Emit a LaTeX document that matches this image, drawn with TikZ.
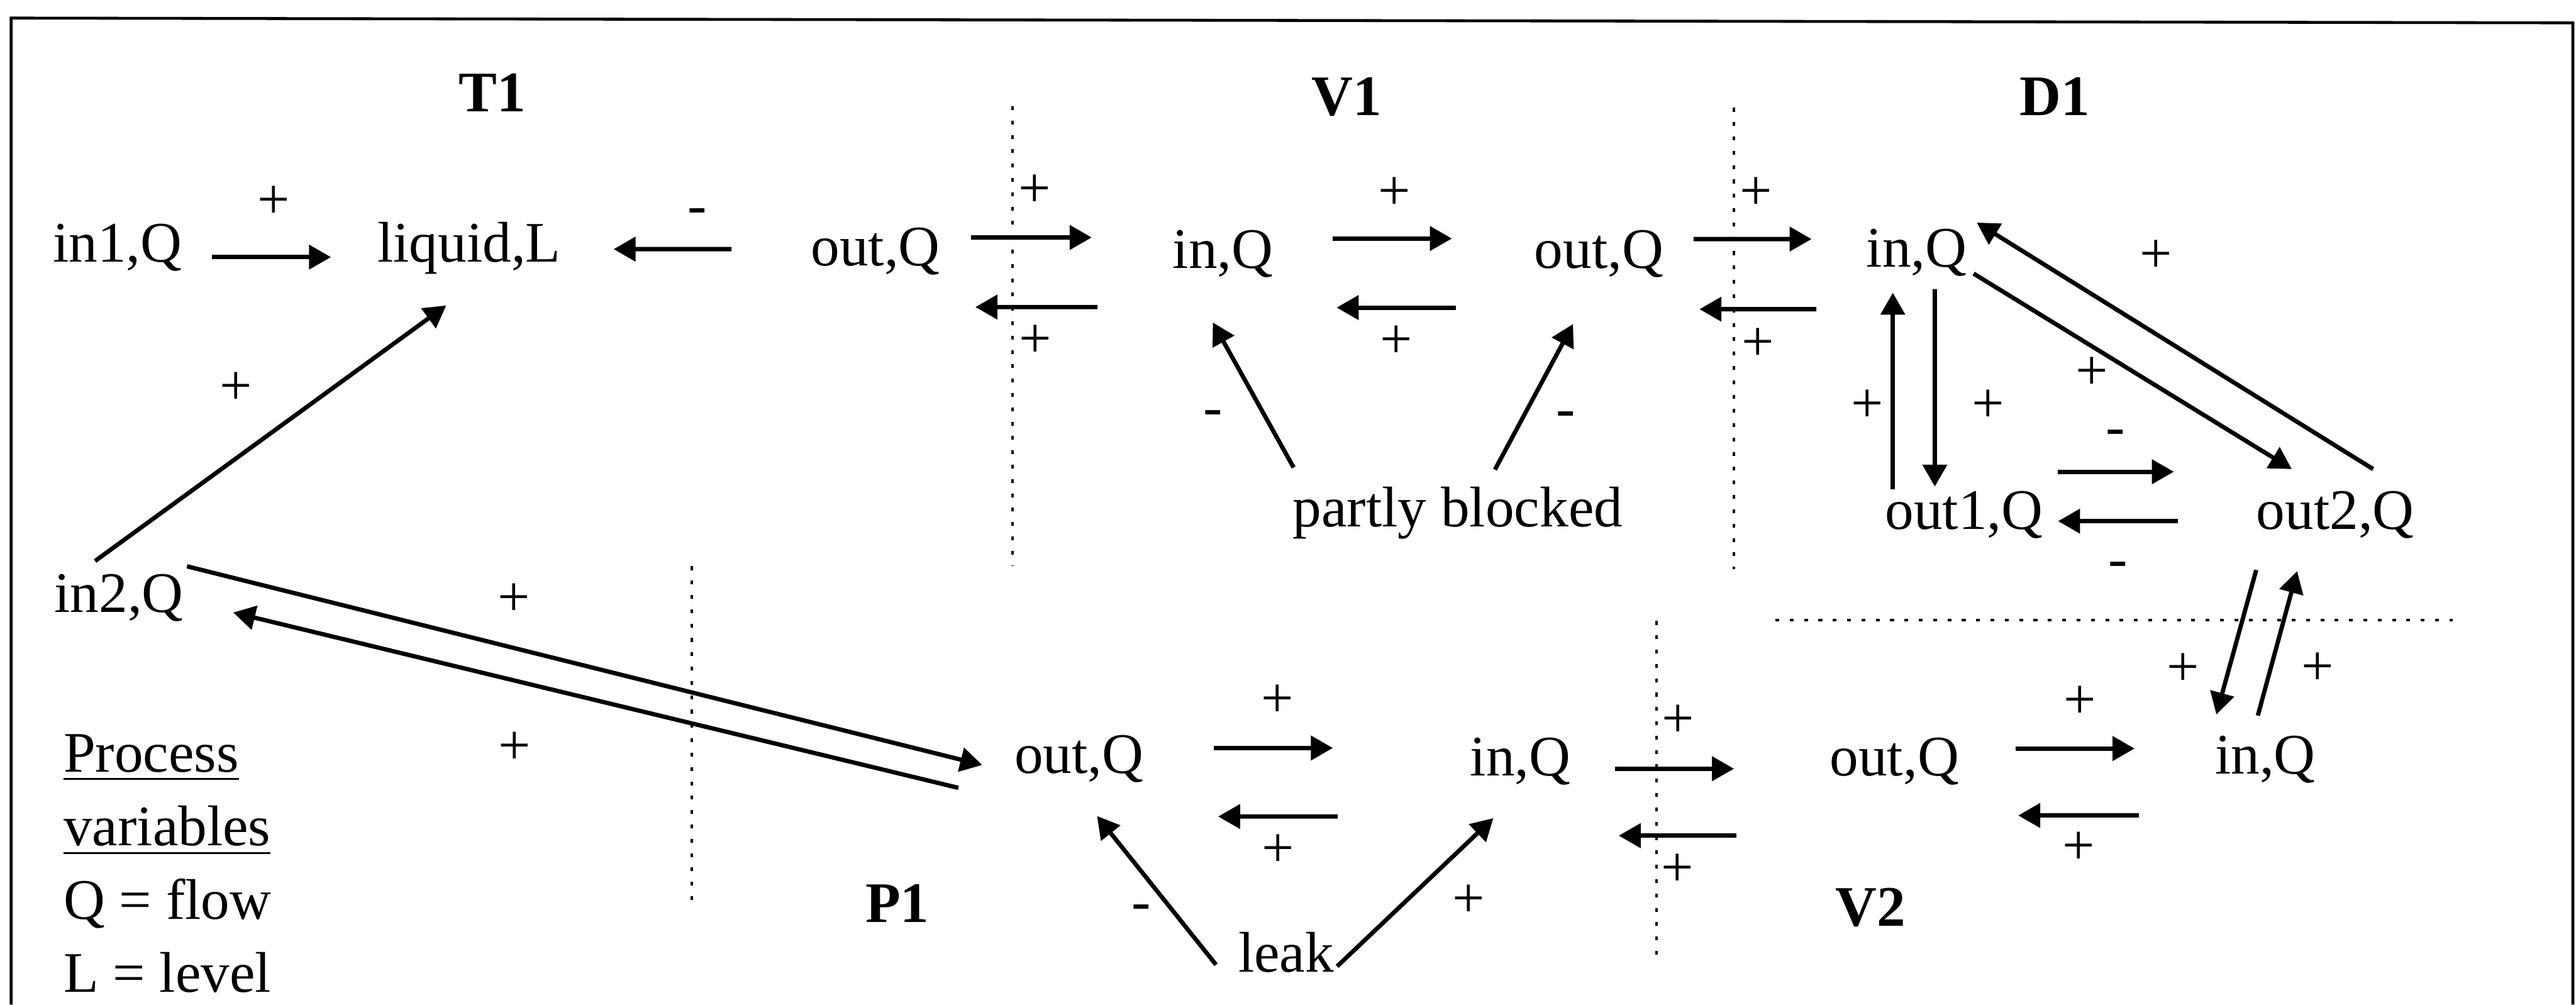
\documentclass[tikz,border=0pt]{standalone}
\usepackage{fontspec}
\setmainfont{Liberation Serif}
\usetikzlibrary{arrows.meta}

\newcommand{\txtsize}{\fontsize{12pt}{14.5pt}\selectfont}

\tikzset{
    var/.style={inner sep=0pt, anchor=base, font=\txtsize},
    unit/.style={var, font=\txtsize\bfseries},
    sgn/.style={inner sep=0pt, text height=0.5em, text depth=0pt, font=\txtsize},
    flow/.style={-{Triangle[length=4.6pt,width=5pt]}, line width=0.9pt},
    divider/.style={line width=0.5pt, dash pattern=on 0.8pt off 2.2pt}
}

\begin{document}
\begin{tikzpicture}[x=0.3906cm, y=-0.3906cm]
            \useasboundingbox (0,0) rectangle (48.49,18.91);

            % Frame
            \draw[line width=0.6pt] (0.21,18.91) -- (0.21,0.34) -- (48.43,0.43) -- (48.43,18.91);

            % Tank T1
            \node[unit] (t1) at (9.27,2.10) {T1};
            \node[var] (in1) at (2.21,4.93) {in1,Q};
            \node[var] (liq) at (8.83,4.93) {liquid,L};
            \node[var] (tout) at (16.48,5.00) {out,Q};
            \node[var] (in2) at (2.24,11.53) {in2,Q};

            % Valve V1
            \node[unit] (v1) at (25.35,2.17) {V1};
            \node[var] (vin) at (23.02,5.05) {in,Q};
            \node[var] (vout) at (30.10,5.05) {out,Q};
            \node[var] (blk) at (27.44,9.92) {partly blocked};

            % D1
            \node[unit] (d1) at (38.68,2.17) {D1};
            \node[var] (din) at (36.08,5.03) {in,Q};
            \node[var] (out1) at (36.97,9.96) {out1,Q};
            \node[var] (out2) at (43.96,9.96) {out2,Q};

            % Pump P1
            \node[unit] (p1) at (16.89,17.36) {P1};
            \node[var] (pout) at (20.31,14.56) {out,Q};
            \node[var] (pin) at (28.62,14.60) {in,Q};
            \node[var] (leak) at (24.21,18.30) {leak};

            % Valve V2
            \node[unit] (v2) at (35.21,17.43) {V2};
            \node[var] (wout) at (35.66,14.60) {out,Q};
            \node[var] (win) at (42.64,14.57) {in,Q};

            % Legend
            \node[var, anchor=base west] (leg1) at (1.18,14.53) {\underline{Process}};
            \node[var, anchor=base west] (leg2) at (1.18,15.92) {\underline{variables}};
            \node[var, anchor=base west] (leg3) at (1.18,17.30) {Q = flow};
            \node[var, anchor=base west] (leg4) at (1.18,18.68) {L = level};

            % Component borders
            \foreach \x/\ya/\yb in {19.06/2.00/10.66, 32.64/2.03/10.71, 13.02/10.66/16.96, 31.18/11.69/18.04} {
                \draw[divider] (\x,\ya) -- (\x,\yb);
            }
            \draw[divider] (33.42,11.67) -- (46.17,11.67);

            % T1 influences
            \draw[flow] ([shift={(1.78,-0.09)}]in1.base) -- node[sgn,shift={(0.04,-0.95)}] {+} ([shift={(-2.60,-0.09)}]liq.base);
            \draw[flow] ([shift={(-2.71,-0.31)}]tout.base) -- node[sgn,shift={(0.46,-0.69)}] {-} ([shift={(2.72,-0.24)}]liq.base);
            \draw[flow] ([shift={(-0.45,-0.97)}]in2.base) -- node[sgn,shift={(-0.65,-0.76)}] {+} ([shift={(-0.43,0.82)}]liq.base);

            % T1 - V1
            \draw[flow] ([shift={(1.80,-0.53)}]tout.base) -- node[sgn,shift={(0.06,-0.79)}] {+} ([shift={(-2.47,-0.58)}]vin.base);
            \draw[flow] ([shift={(-2.36,0.73)}]vin.base) -- node[sgn,shift={(-0.02,0.72)}] {+} ([shift={(1.88,0.78)}]tout.base);

            % V1
            \draw[flow] ([shift={(2.07,-0.56)}]vin.base) -- node[sgn,shift={(0.04,-0.77)}] {+} ([shift={(-2.77,-0.56)}]vout.base);
            \draw[flow] ([shift={(-2.69,0.74)}]vout.base) -- node[sgn,shift={(0,0.73)}] {+} ([shift={(2.14,0.74)}]vin.base);
            \draw[flow] ([shift={(-3.09,-1.12)}]blk.base) -- node[sgn,shift={(-0.76,0.36)}] {-} ([shift={(-0.19,1.02)}]vin.base);
            \draw[flow] ([shift={(0.70,-1.08)}]blk.base) -- node[sgn,shift={(0.60,0.35)}] {-} ([shift={(-0.49,1.05)}]vout.base);

            % V1 - D1
            \draw[flow] ([shift={(1.78,-0.55)}]vout.base) -- node[sgn,shift={(0.06,-0.78)}] {+} ([shift={(-1.98,-0.53)}]din.base);
            \draw[flow] ([shift={(-1.89,0.79)}]din.base) -- node[sgn,shift={(0,0.74)}] {+} ([shift={(1.89,0.77)}]vout.base);

            % D1
            \draw[flow] ([shift={(-1.34,-0.75)}]out1.base) -- node[sgn,shift={(-0.48,0.37)}] {+} ([shift={(-0.45,0.48)}]din.base);
            \draw[flow] ([shift={(0.34,0.41)}]din.base) -- node[sgn,shift={(1.00,0.43)}] {+} ([shift={(-0.55,-0.80)}]out1.base);
            \draw[flow] ([shift={(1.07,0.12)}]din.base) -- node[sgn,shift={(-0.77,0.12)}] {+} ([shift={(-0.82,-1.13)}]out2.base);
            \draw[flow] ([shift={(0.71,-1.13)}]out2.base) -- node[sgn,shift={(-0.35,-1.60)}] {+} ([shift={(1.13,-0.84)}]din.base);
            \draw[flow] ([shift={(1.76,-1.08)}]out1.base) -- node[sgn,shift={(0,-0.72)}] {-} ([shift={(-3.04,-1.08)}]out2.base);
            \draw[flow] ([shift={(-2.96,-0.15)}]out2.base) -- node[sgn,shift={(0,0.84)}] {-} ([shift={(1.77,-0.15)}]out1.base);

            % D1 - V2
            \draw[flow] ([shift={(-1.49,0.77)}]out2.base) -- node[sgn,shift={(-1.00,0.60)}] {+} ([shift={(-0.92,-1.12)}]win.base);
            \draw[flow] ([shift={(-0.14,-1.10)}]win.base) -- node[sgn,shift={(0.76,0.56)}] {+} ([shift={(-0.72,0.79)}]out2.base);

            % T1 - P1
            \draw[flow] ([shift={(1.28,-0.87)}]in2.base) -- node[sgn,pos=0.41,shift={(0.02,-0.82)}] {+} ([shift={(-1.82,-0.16)}]pout.base);
            \draw[flow] ([shift={(-2.27,0.27)}]pout.base) -- node[sgn,pos=0.612,shift={(0,1.36)}] {+} ([shift={(2.15,0)}]in2.base);

            % P1
            \draw[flow] ([shift={(2.54,-0.48)}]pout.base) -- node[sgn,shift={(0.08,-0.80)}] {+} ([shift={(-3.53,-0.52)}]pin.base);
            \draw[flow] ([shift={(-3.44,0.77)}]pin.base) -- node[sgn,shift={(0,0.72)}] {+} ([shift={(2.62,0.81)}]pout.base);
            \draw[flow] ([shift={(-1.32,-0.14)}]leak.base) -- node[sgn,shift={(-0.29,0.34)}] {-} ([shift={(0.34,0.80)}]pout.base);
            \draw[flow] ([shift={(0.96,-0.11)}]leak.base) -- node[sgn,shift={(1.01,0.25)}] {+} ([shift={(-0.51,0.80)}]pin.base);

            % P1 - V2
            \draw[flow] ([shift={(1.78,-0.13)}]pin.base) -- node[sgn,shift={(0.07,-0.82)}] {+} ([shift={(-3.02,-0.13)}]wout.base);
            \draw[flow] ([shift={(-2.98,1.13)}]wout.base) -- node[sgn,shift={(0,0.73)}] {+} ([shift={(1.85,1.13)}]pin.base);

            % V2
            \draw[flow] ([shift={(2.28,-0.51)}]wout.base) -- node[sgn,shift={(0.09,-0.79)}] {+} ([shift={(-2.46,-0.48)}]win.base);
            \draw[flow] ([shift={(-2.38,0.78)}]win.base) -- node[sgn,shift={(0,0.70)}] {+} ([shift={(2.33,0.75)}]wout.base);
\end{tikzpicture}
\end{document}
